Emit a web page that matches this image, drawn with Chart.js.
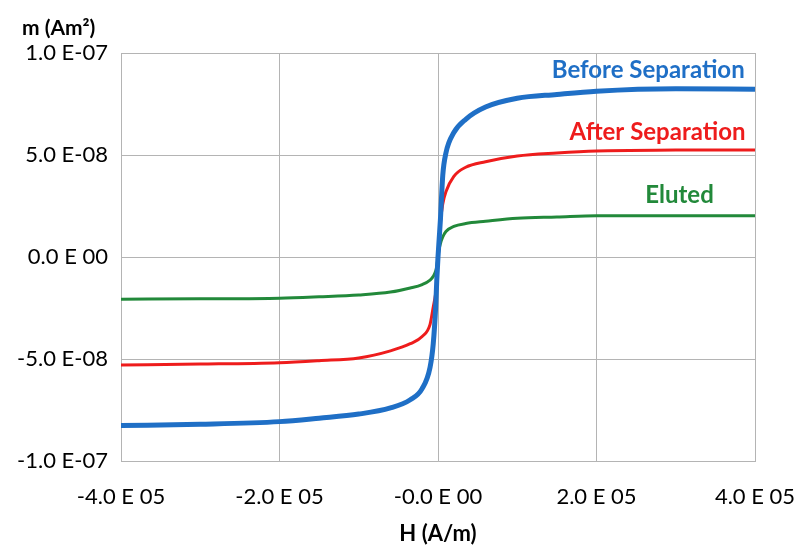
<!DOCTYPE html>
<html>
<head>
<meta charset="utf-8">
<script src="https://cdn.jsdelivr.net/npm/chart.js@4"></script>
<style>
  html, body { margin: 0; padding: 0; background: #fff; }
  #wrap { width: 800px; height: 553px; }
</style>
</head>
<body>
<div id="wrap"><canvas id="myChart"></canvas></div>
<script>
// field H in A/m, moment m in units of 1e-7 Am^2
const fieldH = [-400000, -300000, -200000, -150000, -100000, -60000, -35000, -20000, -10000, -6000, -3000, -1500, 0,
  1500, 3000, 6000, 10000, 20000, 35000, 60000, 100000, 150000, 200000, 300000, 400000]
const beforeSep = [-0.826, -0.82, -0.807, -0.79, -0.77, -0.74, -0.70, -0.645, -0.54, -0.425, -0.25, -0.11, 0,
  0.09, 0.18, 0.40, 0.51, 0.61, 0.675, 0.735, 0.778, 0.797, 0.813, 0.825, 0.822]
const afterSep = [-0.529, -0.525, -0.518, -0.508, -0.495, -0.46, -0.425, -0.39, -0.33, -0.245, -0.18, -0.125, 0,
  0.095, 0.17, 0.26, 0.32, 0.395, 0.44, 0.467, 0.495, 0.51, 0.52, 0.524, 0.525]
const eluted = [-0.207, -0.205, -0.202, -0.195, -0.186, -0.172, -0.152, -0.135, -0.113, -0.095, -0.07, -0.045, 0,
  0.04, 0.065, 0.098, 0.125, 0.15, 0.164, 0.175, 0.19, 0.196, 0.202, 0.202, 0.202]
const M_UNIT = 1e-7

const xTickValues = [-400000, -200000, 0, 200000, 400000]
const xTickLabels = ['-4.0 E 05', '-2.0 E 05', '-0.0 E 00', '2.0 E 05', '4.0 E 05']
const yTickValues = [-1e-7, -5e-8, 0, 5e-8, 1e-7]
const yTickLabels = ['-1.0 E-07', '-5.0 E-08', '0.0 E 00', '5.0 E-08', '1.0 E-07']

const seriesNames = ['Before Separation', 'After Separation', 'Eluted']
const seriesColors = ['#1f6fc6', '#ee1c1c', '#22893a']

function points(vals) {
  return fieldH.map((h, i) => ({ x: h, y: vals[i] * M_UNIT }))
}

const FONT = 'Lato, "Open Sans", sans-serif'

// in-plot series names, placed next to the right end of each curve
const seriesLabels = {
  id: 'seriesLabels',
  afterDatasetsDraw(chart) {
    const ctx = chart.ctx
    const xs = chart.scales.x, ys = chart.scales.y
    const anchors = [387000, 388000, 348000]
    const lifts = [19, 18, 21]
    ctx.save()
    ctx.font = 'bold 24px ' + FONT
    ctx.textAlign = 'right'
    ctx.textBaseline = 'middle'
    chart.data.datasets.forEach((ds, i) => {
      const last = ds.data[ds.data.length - 1]
      ctx.fillStyle = seriesColors[i]
      ctx.fillText(seriesNames[i], xs.getPixelForValue(anchors[i]), ys.getPixelForValue(last.y) - lifts[i])
    })
    // y axis title at top left
    ctx.font = 'bold 21px ' + FONT
    ctx.textAlign = 'left'
    ctx.fillStyle = '#000'
    ctx.fillText('m (Am²)', 22, 28)
    ctx.restore()
  }
}

new Chart(document.getElementById('myChart').getContext('2d'), {
  type: 'line',
  data: {
    datasets: [
      { label: seriesNames[0], data: points(beforeSep), borderColor: seriesColors[0], borderWidth: 5 },
      { label: seriesNames[1], data: points(afterSep), borderColor: seriesColors[1], borderWidth: 3 },
      { label: seriesNames[2], data: points(eluted), borderColor: seriesColors[2], borderWidth: 3 }
    ]
  },
  options: {
    responsive: true,
    maintainAspectRatio: false,
    animation: false,
    layout: { padding: { top: 53, right: 45, left: 0, bottom: 0 } },
    elements: { point: { radius: 0 }, line: { cubicInterpolationMode: 'monotone' } },
    plugins: { legend: { display: false }, tooltip: { enabled: false } },
    scales: {
      x: {
        type: 'linear',
        min: -400000,
        max: 400000,
        afterBuildTicks: s => { s.ticks = xTickValues.map(v => ({ value: v })) },
        afterFit: s => { s.height = 92; s.paddingLeft = 0; s.paddingRight = 0 },
        grid: { color: '#b4b4b4', lineWidth: 1, drawTicks: false },
        border: { color: '#b4b4b4' },
        ticks: {
          padding: 23,
          maxRotation: 0,
          autoSkip: false,
          color: '#000',
          font: { family: FONT, size: 22 },
          callback: (v, i) => xTickLabels[i]
        },
        title: {
          display: true,
          text: 'H (A/m)',
          color: '#000',
          font: { family: FONT, size: 22, weight: 'bold' },
          padding: { top: 0, bottom: 6 }
        }
      },
      y: {
        min: -1e-7,
        max: 1e-7,
        afterBuildTicks: s => { s.ticks = yTickValues.map(v => ({ value: v })) },
        afterFit: s => { s.width = 121; s.paddingTop = 0; s.paddingBottom = 0 },
        grid: { color: '#b4b4b4', lineWidth: 1, drawTicks: false },
        border: { color: '#b4b4b4' },
        ticks: {
          padding: 13,
          color: '#000',
          font: { family: FONT, size: 22 },
          callback: (v, i) => yTickLabels[i]
        }
      }
    }
  },
  plugins: [seriesLabels]
})
</script>
</body>
</html>
